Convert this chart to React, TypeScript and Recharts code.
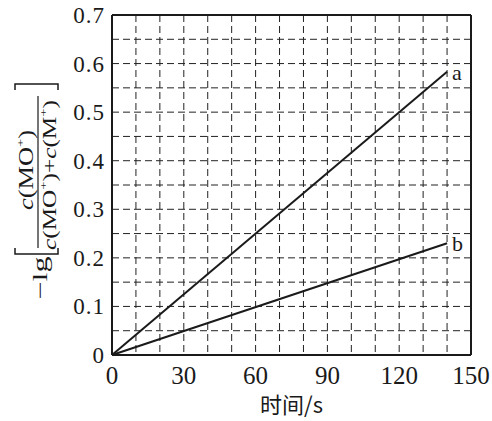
import React from 'react';
import { LineChart, Line, XAxis, YAxis, CartesianGrid, ReferenceLine } from 'recharts';

// values
const times = [0, 140];
const seriesA = [0, 0.583];
const seriesB = [0, 0.23];

// grid positions; only the major ones get a label
const xTicks = [0, 10, 20, 30, 40, 50, 60, 70, 80, 90, 100, 110, 120, 130, 140, 150];
const xLabelled = [0, 30, 60, 90, 120, 150];
const yTicks = [0, 0.05, 0.1, 0.15, 0.2, 0.25, 0.3, 0.35, 0.4, 0.45, 0.5, 0.55, 0.6, 0.65, 0.7];
const yLabelled = ['0', '0.1', '0.2', '0.3', '0.4', '0.5', '0.6', '0.7'];

const data = times.map((t, i) => ({ t, a: seriesA[i], b: seriesB[i] }));

const serif = 'Liberation Serif, DejaVu Serif, serif';
const ink = '#1a1a1a';

const endLabel = (name: string, last: number) => (props: any) => {
  const { x, y, index } = props;
  if (index !== last) return null;
  return (
    <text x={x + 5} y={y + 8} fontSize={22} fontFamily={serif} fill={ink}>
      {name}
    </text>
  );
};

const XTick = (props: any) => {
  const { x, y, payload } = props;
  if (!xLabelled.includes(payload.value)) return null;
  return (
    <text x={x} y={y} dy={18} textAnchor="middle" fontSize={25} fontFamily={serif} fill={ink}>
      {payload.value}
    </text>
  );
};

const YTick = (props: any) => {
  const { x, y, payload } = props;
  const s = payload.value === 0 ? '0' : Number(payload.value).toFixed(2).replace(/0$/, '');
  if (!yLabelled.includes(s)) return null;
  return (
    <text x={x} y={y} dy={8} textAnchor="end" fontSize={23} fontFamily={serif} fill={ink} letterSpacing={1}>
      {s}
    </text>
  );
};

function YTitle() {
  return (
    <g transform="translate(38, 191) rotate(-90)" fill={ink} fontFamily={serif}>
      <text x={-87} y={9} fontSize={21} textLength={43} lengthAdjust="spacingAndGlyphs" textAnchor="middle">
        −lg
      </text>
      <path d="M -57 -23 H -63 V 20 H -57" stroke={ink} strokeWidth={1.5} fill="none" />
      <path d="M 101 -23 H 107 V 20 H 101" stroke={ink} strokeWidth={1.5} fill="none" />
      <line x1={-57} x2={95} y1={0} y2={0} stroke={ink} strokeWidth={1.2} />
      <text x={21} y={-5} fontSize={20} textAnchor="middle" textLength={80} lengthAdjust="spacingAndGlyphs">
        <tspan fontStyle="italic">c</tspan>
        <tspan>(MO</tspan>
        <tspan dy={-9} fontSize={11}>+</tspan>
        <tspan dy={9}>)</tspan>
      </text>
      <text x={16} y={18} fontSize={19} textAnchor="middle" textLength={150} lengthAdjust="spacingAndGlyphs">
        <tspan fontStyle="italic">c</tspan>
        <tspan>(MO</tspan>
        <tspan dy={-9} fontSize={11}>+</tspan>
        <tspan dy={9}>)+</tspan>
        <tspan fontStyle="italic">c</tspan>
        <tspan>(M</tspan>
        <tspan dy={-9} fontSize={11}>+</tspan>
        <tspan dy={9}>)</tspan>
      </text>
    </g>
  );
}

export default function App() {
  return (
    <div style={{ position: 'absolute', left: 0, top: 0, background: '#fff', fontFamily: serif }}>
      <LineChart width={492} height={421} data={data} margin={{ top: 15, right: 21, bottom: 0, left: 0 }}>
        <CartesianGrid stroke="#222" strokeDasharray="7 4" strokeWidth={1} />
        <XAxis
          type="number"
          dataKey="t"
          domain={[0, 150]}
          ticks={xTicks}
          interval={0}
          height={66}
          tickSize={0}
          tickMargin={11}
          axisLine={{ stroke: ink, strokeWidth: 2 }}
          tick={<XTick />}
          label={{
            value: '时间/s',
            position: 'insideBottom',
            offset: 8,
            fontSize: 22,
            fill: ink,
            fontFamily: 'Noto Sans CJK SC, serif',
          }}
        />
        <YAxis
          type="number"
          domain={[0, 0.7]}
          ticks={yTicks}
          interval={0}
          width={112}
          tickSize={0}
          tickMargin={7}
          axisLine={{ stroke: ink, strokeWidth: 2 }}
          tick={<YTick />}
          label={{ content: () => <YTitle /> }}
        />
        <ReferenceLine y={0.7} stroke={ink} strokeWidth={2} />
        <ReferenceLine x={150} stroke={ink} strokeWidth={2} />
        <Line
          type="linear"
          dataKey="a"
          stroke={ink}
          strokeWidth={2}
          dot={false}
          isAnimationActive={false}
          label={endLabel('a', times.length - 1)}
        />
        <Line
          type="linear"
          dataKey="b"
          stroke={ink}
          strokeWidth={2}
          dot={false}
          isAnimationActive={false}
          label={endLabel('b', times.length - 1)}
        />
      </LineChart>
    </div>
  );
}
